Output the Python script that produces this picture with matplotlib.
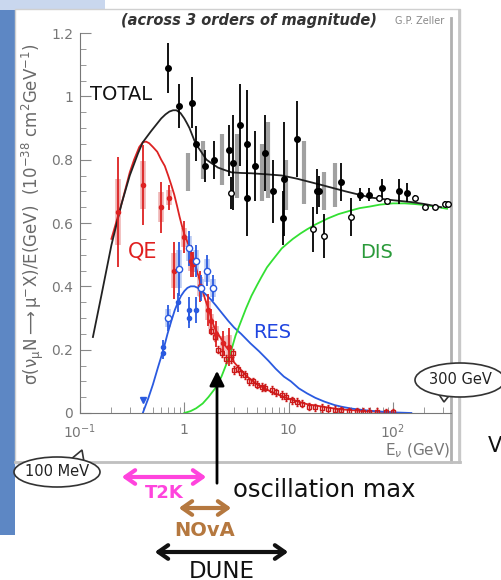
#neutrino CC cross sections (sigma/E) with long-baseline energy ranges

import matplotlib
matplotlib.use('Agg')
import matplotlib.pyplot as plt
from matplotlib.patches import Rectangle, Ellipse, FancyArrowPatch, Polygon

#curves (E in GeV, sigma/E in 1e-38 cm2/GeV)
total_E = [0.133, 0.16, 0.2, 0.25, 0.3, 0.36, 0.4, 0.48, 0.6, 0.66, 0.72, 0.78, 0.84, 0.92, 1.0, 1.06, 1.12, 1.25, 1.35, 1.45, 1.63, 1.8, 2.1, 2.4, 2.83, 3.5, 4.4, 6, 8.6, 12, 20.7, 35, 62, 100, 150, 200, 290]
total_y = [0.24, 0.37, 0.53, 0.66, 0.75, 0.82, 0.855, 0.89, 0.93, 0.943, 0.952, 0.956, 0.956, 0.947, 0.93, 0.915, 0.90, 0.86, 0.84, 0.825, 0.80, 0.79, 0.775, 0.768, 0.76, 0.758, 0.757, 0.754, 0.75, 0.74, 0.72, 0.70, 0.68, 0.672, 0.666, 0.66, 0.65]

qe_E = [0.2, 0.25, 0.3, 0.33, 0.37, 0.4, 0.43, 0.46, 0.5, 0.55, 0.6, 0.65, 0.7, 0.75, 0.8, 0.85, 0.9, 0.95, 1.0, 1.1, 1.22, 1.33, 1.46, 1.58, 1.7, 1.94, 2.1, 2.3, 2.5, 2.65, 3.0, 3.5, 4.0, 5.0, 7.0, 10, 15, 30, 60, 100]
qe_y = [0.55, 0.66, 0.76, 0.80, 0.84, 0.855, 0.857, 0.852, 0.84, 0.825, 0.80, 0.78, 0.75, 0.72, 0.69, 0.655, 0.62, 0.59, 0.565, 0.53, 0.49, 0.445, 0.40, 0.36, 0.33, 0.27, 0.25, 0.23, 0.21, 0.20, 0.16, 0.135, 0.115, 0.09, 0.065, 0.045, 0.028, 0.012, 0.005, 0.002]

res_E = [0.40, 0.45, 0.5, 0.56, 0.63, 0.69, 0.75, 0.81, 0.87, 0.93, 1.0, 1.07, 1.15, 1.25, 1.35, 1.45, 1.6, 1.8, 2.0, 2.3, 2.65, 3.0, 3.5, 4.3, 5.2, 6.4, 7.5, 9.0, 10.5, 12.5, 15, 18, 22, 27.6, 32, 40, 50, 60, 80, 100, 150]
res_y = [0.0, 0.045, 0.09, 0.145, 0.2, 0.25, 0.29, 0.325, 0.35, 0.37, 0.385, 0.395, 0.40, 0.40, 0.395, 0.388, 0.375, 0.358, 0.34, 0.315, 0.29, 0.27, 0.25, 0.22, 0.195, 0.165, 0.14, 0.115, 0.1, 0.078, 0.062, 0.048, 0.036, 0.025, 0.02, 0.014, 0.01, 0.007, 0.004, 0.002, 0.0]

dis_E = [1.0, 1.15, 1.3, 1.5, 1.7, 2.0, 2.27, 2.5, 2.83, 3.1, 3.5, 3.9, 4.4, 5.0, 5.5, 6.2, 6.9, 7.7, 8.6, 9.7, 11, 13, 15, 18, 24, 30, 40, 48, 60, 75, 100, 130, 160, 200, 250, 330]
dis_y = [0.0, 0.006, 0.015, 0.03, 0.05, 0.08, 0.115, 0.15, 0.2, 0.245, 0.29, 0.33, 0.37, 0.405, 0.43, 0.46, 0.48, 0.5, 0.52, 0.535, 0.55, 0.567, 0.58, 0.595, 0.615, 0.628, 0.64, 0.647, 0.652, 0.658, 0.662, 0.662, 0.66, 0.657, 0.652, 0.645]

#total data: filled points
tot_E = [0.70, 0.89, 1.19, 1.30, 1.59, 1.94, 2.7, 2.96, 3.45, 3.95, 3.95, 4.8, 5.9, 7.1, 9.1, 8.9, 11.9, 18.6, 19.4, 32, 48, 59, 78, 114, 136]
tot_y = [1.09, 0.97, 0.98, 0.85, 0.78, 0.80, 0.83, 0.79, 0.91, 0.85, 0.68, 0.78, 0.82, 0.70, 0.74, 0.615, 0.865, 0.70, 0.70, 0.73, 0.69, 0.69, 0.71, 0.70, 0.695]
tot_err = [0.08, 0.07, 0.08, 0.055, 0.05, 0.06, 0.08, 0.15, 0.13, 0.17, 0.12, 0.11, 0.12, 0.10, 0.18, 0.085, 0.12, 0.07, 0.05, 0.06, 0.02, 0.02, 0.03, 0.04, 0.03]
#total data: open points
tot_open_E = [2.83, 17, 22, 40, 73, 87, 163, 201, 254, 316, 335]
tot_open_y = [0.695, 0.58, 0.56, 0.62, 0.68, 0.67, 0.68, 0.65, 0.65, 0.66, 0.66]
tot_open_err = [0.05, 0.07, 0.07, 0.06, 0.01, 0.01, 0.01, 0.01, 0.01, 0.01, 0.01]
#total data: grey systematic bars
tot_sys_E = [1.09, 1.5, 2.3, 3.2, 5.5, 6.3, 9.5, 14, 22, 28]
tot_sys_y = [0.76, 0.80, 0.80, 0.78, 0.76, 0.80, 0.72, 0.76, 0.70, 0.72]
tot_sys_err = [0.06, 0.06, 0.08, 0.10, 0.09, 0.12, 0.08, 0.10, 0.06, 0.07]

#QE data
qe_d_E = [0.23, 0.40, 0.60, 0.72, 0.80, 1.0, 1.17, 1.22, 1.42, 1.7, 1.82, 2.03, 2.37, 2.7]
qe_d_y = [0.635, 0.72, 0.65, 0.68, 0.45, 0.555, 0.48, 0.47, 0.40, 0.325, 0.29, 0.25, 0.22, 0.21]
qe_d_err = [0.175, 0.125, 0.08, 0.04, 0.09, 0.05, 0.05, 0.04, 0.05, 0.05, 0.04, 0.04, 0.04, 0.06]
qe_tail_E = [1.82, 1.95, 2.1, 2.3, 2.5, 2.8, 2.95, 3.0, 3.3, 3.5, 3.8, 4.2, 4.6, 5.0, 5.5, 6.0, 6.9, 7.5, 8.6, 9.5, 10.7, 12, 13.5, 15.6, 18, 20.7, 24, 27.6, 32, 37.6, 45, 52, 59, 70, 85, 100]
qe_tail_y = [0.26, 0.24, 0.20, 0.19, 0.17, 0.17, 0.19, 0.135, 0.14, 0.125, 0.12, 0.10, 0.10, 0.09, 0.083, 0.08, 0.072, 0.065, 0.057, 0.05, 0.04, 0.035, 0.03, 0.02, 0.018, 0.015, 0.012, 0.01, 0.008, 0.005, 0.005, 0.004, 0.004, 0.003, 0.002, 0.002]

#RES data
res_f_E = [0.63, 0.63, 0.87, 1.12, 1.12, 1.30]
res_f_y = [0.21, 0.19, 0.35, 0.325, 0.30, 0.325]
res_f_err = [0.02, 0.02, 0.03, 0.04, 0.03, 0.04]
res_o_E = [0.70, 0.89, 1.12, 1.30, 1.46, 1.66, 1.90]
res_o_y = [0.30, 0.455, 0.52, 0.48, 0.395, 0.45, 0.395]
res_o_err = [0.04, 0.085, 0.055, 0.05, 0.04, 0.05, 0.04]

yticks = [0, 0.2, 0.4, 0.6, 0.8, 1.0, 1.2]
ytick_labels = ['0', '0.2', '0.4', '0.6', '0.8', '1', '1.2']
xticks = [0.1, 1, 10, 100]
xtick_labels = ['$10^{-1}$', '1', '10', '$10^{2}$']

W, H = 502, 580
def fx(x): return x / W
def fy(y): return 1 - y / H

fig = plt.figure(figsize=(W / 100, H / 100), dpi=100)

#slide background bits: blue bar at left, light strip top left
fig.add_artist(Rectangle((0, fy(535)), fx(15), (535) / H, transform=fig.transFigure, color='#5d87c4', lw=0, zorder=-3))
fig.add_artist(Rectangle((fx(15), fy(470)), fx(30), 400 / H, transform=fig.transFigure, color='#e6edf7', lw=0, zorder=-3))
fig.add_artist(Rectangle((0, fy(10)), fx(105), 10 / H, transform=fig.transFigure, color='#c9d7ee', lw=0, zorder=-3))
#white plot panel with grey frame
fig.add_artist(Rectangle((fx(15), fy(462)), fx(445), 453 / H, transform=fig.transFigure, facecolor='white', edgecolor='#d0d0d0', lw=1, zorder=-2))
fig.add_artist(plt.Line2D([fx(451), fx(451)], [fy(462), fy(18)], transform=fig.transFigure, color='#b0b0b0', lw=2, zorder=-1))
fig.add_artist(plt.Line2D([fx(459), fx(459)], [fy(462), fy(10)], transform=fig.transFigure, color='#c8c8c8', lw=2, zorder=-1))
fig.add_artist(plt.Line2D([fx(15), fx(460)], [fy(462), fy(462)], transform=fig.transFigure, color='#c0c0c0', lw=2, zorder=-1))

ax = fig.add_axes([fx(80), fy(413), 371 / W, 380 / H])
ax.patch.set_alpha(0)
ax.set_xscale('log')
ax.set_xlim(0.1, 360)
ax.set_ylim(0, 1.2)

#systematic / shaded bars first
ax.errorbar(tot_sys_E, tot_sys_y, yerr=tot_sys_err, fmt='none', ecolor='#8a8a8a', elinewidth=3, alpha=0.8)
ax.errorbar(qe_d_E, qe_d_y, yerr=[e * 0.6 for e in qe_d_err], fmt='none', ecolor='#eba0a0', elinewidth=4, alpha=0.8)
ax.errorbar(res_o_E, res_o_y, yerr=[e * 0.7 for e in res_o_err], fmt='none', ecolor='#a8bdf0', elinewidth=4, alpha=0.8)

#curves
ax.plot(qe_E, qe_y, color='#dd2222', lw=1.3)
ax.plot(res_E, res_y, color='#2a5ae0', lw=1.3)
ax.plot(dis_E, dis_y, color='#33e033', lw=1.3)
ax.plot(total_E, total_y, color='#222222', lw=1.3)

#data
ax.errorbar(tot_E, tot_y, yerr=tot_err, fmt='o', color='black', ms=4, elinewidth=1.3, capsize=0)
ax.errorbar(tot_open_E, tot_open_y, yerr=tot_open_err, fmt='o', color='black', mfc='white', ms=4, elinewidth=1.3, capsize=0)
ax.errorbar(qe_tail_E, qe_tail_y, yerr=0.012, fmt='s', color='#cc1a1a', mfc='none', ms=3.5, elinewidth=1, capsize=1)
ax.errorbar(qe_d_E, qe_d_y, yerr=qe_d_err, fmt='o', color='#dd2222', ms=3, elinewidth=1.3, capsize=0)
ax.plot([0.40], [0.04], 'v', color='#2a5ae0', ms=4)
ax.errorbar(res_f_E, res_f_y, yerr=res_f_err, fmt='o', color='#2a5ae0', ms=3, elinewidth=1.3, capsize=0)
ax.errorbar(res_o_E, res_o_y, yerr=res_o_err, fmt='o', color='#2a5ae0', mfc='white', ms=4.5, elinewidth=1.3, capsize=0)

#axes styling
for s in ['top', 'right']:
    ax.spines[s].set_visible(False)
for s in ['left', 'bottom']:
    ax.spines[s].set_color('#777777')
ax.set_yticks(yticks)
ax.set_yticklabels(ytick_labels)
ax.set_yticks([i * 0.05 for i in range(25)], minor=True)
ax.set_xticks(xticks)
ax.set_xticklabels(xtick_labels)
ax.tick_params(which='both', direction='in', colors='#888888', labelcolor='#777777', labelsize=10)
ax.tick_params(which='major', length=8)
ax.tick_params(which='minor', length=4)
ax.tick_params(axis='y', pad=5)
ax.tick_params(axis='x', pad=7)

#texts
fig.text(fx(249), fy(20), '(across 3 orders of magnitude)', ha='center', va='center', fontsize=10.5, style='italic', weight='bold', color='#333333')
fig.text(fx(420), fy(21), 'G.P. Zeller', ha='center', va='center', fontsize=7, color='#888888')
fig.text(fx(33), fy(214), r'$\mathregular{\sigma(\nu_\mu N \longrightarrow \mu^{-} X)/E(GeV)\ \ (10^{-38}\ cm^{2}GeV^{-1})}$',
         rotation=90, ha='center', va='center', fontsize=12, color='#6a6a6a')
fig.text(fx(450), fy(451), r'E$_\nu$ (GeV)', ha='right', va='center', fontsize=11, color='#777777')

fig.text(fx(90), fy(95), 'TOTAL', ha='left', va='center', fontsize=14, color='#111111')
fig.text(fx(128), fy(252), 'QE', ha='left', va='center', fontsize=15, color='#e02020')
fig.text(fx(253), fy(333), 'RES', ha='left', va='center', fontsize=14, color='#2045e0')
fig.text(fx(360), fy(252), 'DIS', ha='left', va='center', fontsize=14, color='#2a9a3a')

#speech bubbles
def bubble(cx, cy, w, h, tail, label):
    fig.add_artist(Polygon([(fx(p[0]), fy(p[1])) for p in tail], closed=True, transform=fig.transFigure,
                           facecolor='white', edgecolor='#333333', lw=1.2, zorder=3))
    fig.add_artist(Ellipse((fx(cx), fy(cy)), fx(w), h / H, transform=fig.transFigure,
                           facecolor='white', edgecolor='#333333', lw=1.2, zorder=3))
    fig.text(fx(cx), fy(cy), label, ha='center', va='center', fontsize=10.5, color='#222222', zorder=4)

bubble(460, 380, 90, 34, [(436, 390), (444, 402), (452, 392)], '300 GeV')
bubble(57, 472, 86, 30, [(70, 460), (82, 450), (84, 462)], '100 MeV')

fig.text(fx(488), fy(446), 'V', ha='left', va='center', fontsize=15, color='#111111')

#oscillation max arrow
fig.add_artist(FancyArrowPatch((fx(217), fy(486)), (fx(217), fy(368)), transform=fig.transFigure,
                               arrowstyle='-|>', mutation_scale=22, lw=2, color='black', zorder=5))
fig.text(fx(233), fy(490), 'oscillation max', ha='left', va='center', fontsize=17.5, color='#111111')

#experiment energy ranges
def span(x0, x1, y, color, label, ly, size, weight, va='center'):
    fig.add_artist(FancyArrowPatch((fx(x0), fy(y)), (fx(x1), fy(y)), transform=fig.transFigure,
                                   arrowstyle='<->,head_length=0.5,head_width=0.35', mutation_scale=14,
                                   lw=3, color=color, zorder=5))
    fig.text(fx((x0 + x1) / 2), fy(ly), label, ha='center', va=va, fontsize=size, weight=weight, color=color)

span(119, 209, 477, '#ff44dd', 'T2K', 493, 13, 'bold')
span(176, 234, 508, '#b5783f', 'NOvA', 530, 14, 'bold')
span(152, 291, 552, '#111111', 'DUNE', 560, 16.5, 'normal', va='top')

plt.savefig('out.png', dpi=100)
